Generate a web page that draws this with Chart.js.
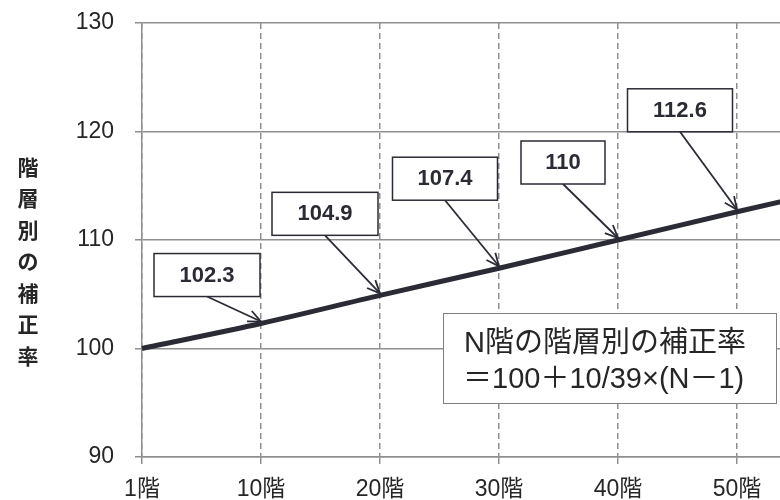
<!DOCTYPE html>
<html lang="ja">
<head>
<meta charset="UTF-8">
<title>階層別の補正率</title>
<script src="https://cdn.jsdelivr.net/npm/chart.js@4"></script>
<style>
  html, body { margin: 0; padding: 0; overflow: hidden; background: #fff; }
  /* 60階の列は画面の外まで伸びるので、キャンバスは窓より広く取る */
  #wrap { position: relative; width: 900px; height: 500px; }
</style>
</head>
<body>
<div id="wrap"><canvas id="floorChart"></canvas></div>
<script>
// 階数 (x軸)
const floors = ["1階", "10階", "20階", "30階", "40階", "50階", "60階"];
// 階層別の補正率
const rates = [100, 102.3, 104.9, 107.4, 110, 112.6, 115.1];
// y軸の目盛り
const yTicks = [90, 100, 110, 120, 130];
// 吹き出しを付ける点 (floors の添字)
const calloutIdx = [1, 2, 3, 4, 5];
const yTitle = "階層別の補正率";
const formulaLines = ["N階の階層別の補正率", "＝100＋10/39×(N－1)"];

const FONT = '"Liberation Sans", Arial, "Noto Sans CJK JP", sans-serif';
const INK = "#2b2b36";
const GRID = "#8f8f8f";

// 吹き出しの箱: 矢印の先からのずれと幅
const boxLayout = [
  { dx: -54, dy: -25, w: 106 },
  { dx: -55, dy: -58, w: 106 },
  { dx: -54, dy: -66, w: 105 },
  { dx: -55, dy: -54, w: 84 },
  { dx: -57, dy: -78, w: 105 }
];

Chart.defaults.font.family = FONT;

const extras = {
  id: "extras",
  afterDatasetsDraw(chart) {
    const { ctx, chartArea, scales: { x, y } } = chart;
    ctx.save();

    // 吹き出し
    calloutIdx.forEach((i, k) => {
      const b = boxLayout[k];
      const tx = x.getPixelForValue(i);
      const ty = y.getPixelForValue(rates[i]) - 2;
      const cx = tx + b.dx, bottom = ty + b.dy, top = bottom - 43;

      ctx.strokeStyle = INK;
      ctx.lineWidth = 1.8;
      ctx.beginPath();
      ctx.moveTo(cx, bottom);
      ctx.lineTo(tx, ty);
      ctx.stroke();
      const a = Math.atan2(ty - bottom, tx - cx);
      ctx.beginPath();
      ctx.moveTo(tx - 14 * Math.cos(a - 0.42), ty - 14 * Math.sin(a - 0.42));
      ctx.lineTo(tx, ty);
      ctx.lineTo(tx - 14 * Math.cos(a + 0.42), ty - 14 * Math.sin(a + 0.42));
      ctx.stroke();

      ctx.fillStyle = "#fff";
      ctx.fillRect(cx - b.w / 2, top, b.w, 43);
      ctx.lineWidth = 1.5;
      ctx.strokeRect(cx - b.w / 2, top, b.w, 43);
      ctx.fillStyle = INK;
      ctx.font = "bold 22px " + FONT;
      ctx.textAlign = "center";
      ctx.textBaseline = "middle";
      ctx.fillText(String(rates[i]), cx, top + 22);
    });

    // 計算式の箱
    const fx = 443, fy = 313;
    ctx.fillStyle = "#fff";
    ctx.fillRect(fx, fy, 333, 90);
    ctx.strokeStyle = "#808080";
    ctx.lineWidth = 1;
    ctx.strokeRect(fx + 0.5, fy + 0.5, 333, 90);
    ctx.fillStyle = "#262626";
    ctx.font = "29px " + FONT;
    ctx.textAlign = "left";
    ctx.textBaseline = "alphabetic";
    ctx.fillText(formulaLines[0], 464, 352);
    ctx.fillText(formulaLines[1], 463, 388);

    // y軸タイトル (縦書き)
    ctx.fillStyle = "#262626";
    ctx.font = "bold 21px " + FONT;
    ctx.textAlign = "center";
    ctx.textBaseline = "middle";
    [...yTitle].forEach((ch, k) => {
      ctx.fillText(ch, 28, chartArea.top + 146 + k * 31.5);
    });

    ctx.restore();
  }
};

new Chart(document.getElementById("floorChart"), {
  type: "line",
  data: {
    labels: floors,
    datasets: [{
      data: rates,
      borderColor: INK,
      borderWidth: 5,
      pointRadius: 0,
      tension: 0.3,
      fill: false
    }]
  },
  options: {
    responsive: true,
    maintainAspectRatio: false,
    animation: false,
    layout: { padding: { top: 23, right: 44, left: 0, bottom: 0 } },
    plugins: { legend: { display: false }, tooltip: { enabled: false } },
    scales: {
      x: {
        offset: false,
        grid: { color: GRID, lineWidth: 1.5, tickLength: 7 },
        border: { color: GRID, width: 1.5, dash: [6, 4] },
        ticks: { color: "#262626", font: { size: 23 }, padding: 12, maxRotation: 0 },
        afterFit(scale) {
          scale.height = 43;
          scale.paddingLeft = 0;
          scale.paddingRight = 0;
        }
      },
      y: {
        min: yTicks[0],
        max: yTicks[yTicks.length - 1],
        grid: { color: GRID, lineWidth: 1.5, tickLength: 7 },
        border: { color: GRID, width: 1.5 },
        ticks: { stepSize: yTicks[1] - yTicks[0], color: "#262626", font: { size: 23 }, padding: 21 },
        afterFit(scale) {
          scale.width = 142;
          scale.paddingTop = 0;
          scale.paddingBottom = 0;
        }
      }
    }
  },
  plugins: [extras]
});
</script>
</body>
</html>
